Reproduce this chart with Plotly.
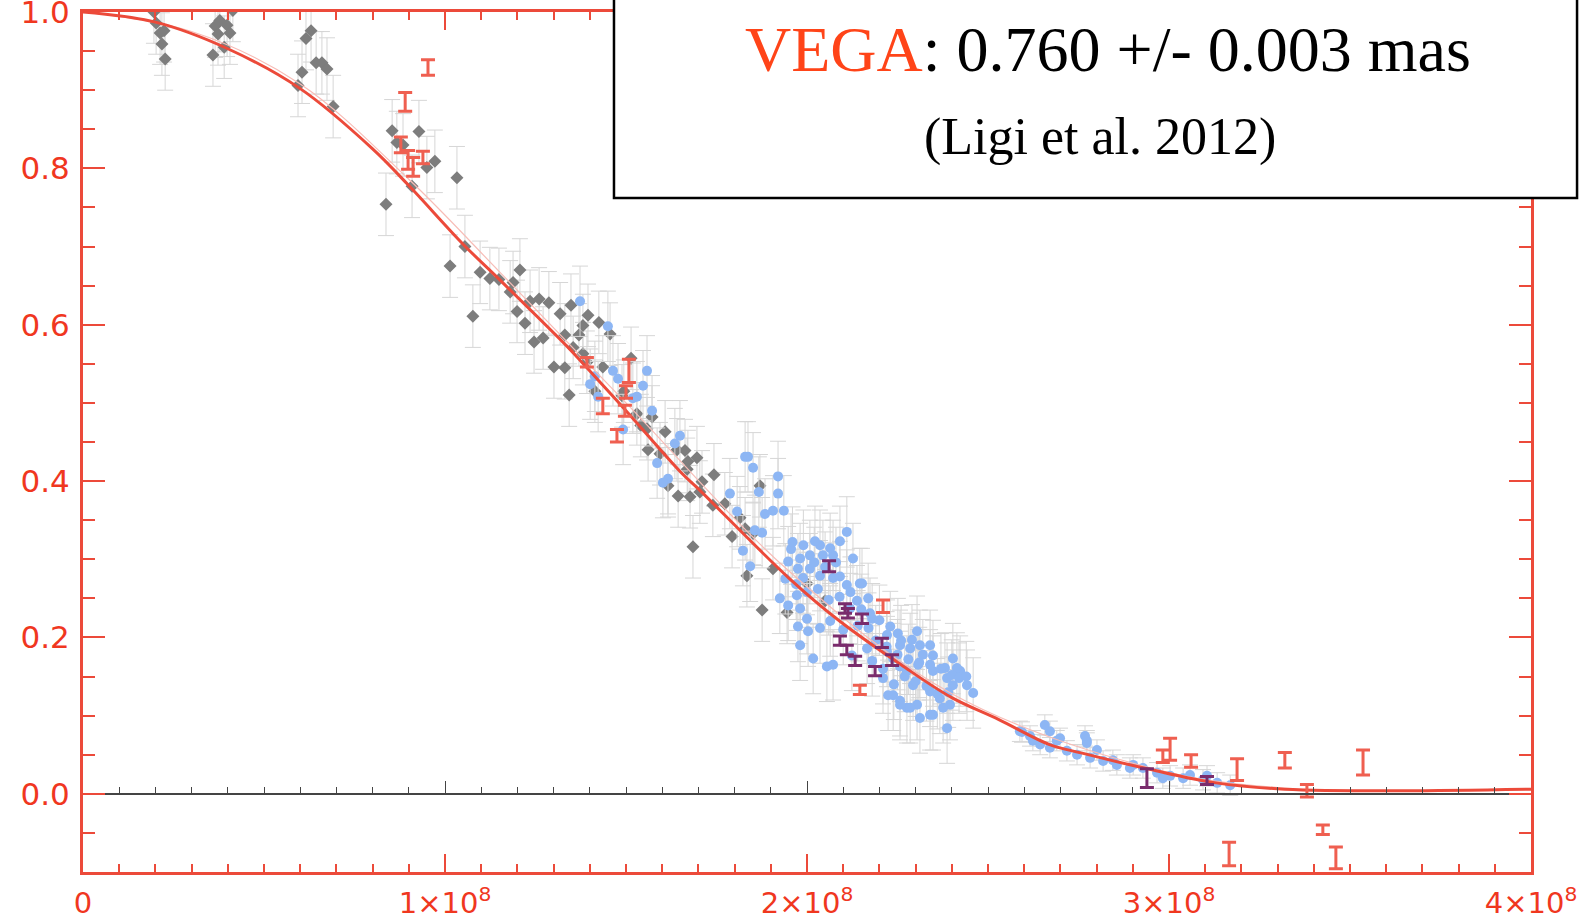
import plotly.graph_objects as go

# ---- data (x in units of 1e8 rad^-1, y = squared visibility) ----
gray_x = [0.196,0.202,0.213,0.224,0.218,0.227,0.359,0.365,0.378,0.398,0.373,0.406,0.414,0.390,
          0.594,0.605,0.616,0.630,0.644,0.660,0.674,0.691,
          0.854,0.928,0.884,0.867,0.972,0.950,1.033,0.837,0.909,1.055,1.014,1.097,1.124,1.149,
          1.207,1.188,1.180,1.199,1.235,1.260,1.287,1.221,1.077,1.246,1.271,1.318,1.348,1.331,
          1.370,1.381,1.395,1.425,1.456,1.354,
          1.301,1.331,1.343,1.381,1.392,1.436,1.514,1.494,1.572,1.608,1.641,1.663,1.671,1.561,
          1.644,1.677,1.616,1.696,
          1.414,1.489,1.530,1.541,1.558,1.594,1.669,1.743,1.710,1.704,1.740,1.773,1.815,1.829,
          1.793,1.870,1.685,1.834,
          1.876,1.945,1.851,1.906,2.000,2.050]
gray_y = [1.000,0.986,0.973,0.976,0.959,0.940,0.945,0.982,0.989,0.983,0.972,0.973,1.002,0.955,
          0.906,0.923,0.966,0.976,0.935,0.935,0.927,0.879,
          0.848,0.847,0.830,0.833,0.809,0.801,0.788,0.754,0.777,0.700,0.675,0.667,0.659,0.658,
          0.670,0.654,0.642,0.617,0.630,0.633,0.628,0.602,0.611,0.578,0.583,0.614,0.625,0.587,
          0.587,0.599,0.612,0.603,0.588,0.571,
          0.546,0.545,0.510,0.563,0.552,0.546,0.557,0.515,0.482,0.463,0.440,0.439,0.425,0.440,
          0.381,0.380,0.394,0.430,
          0.515,0.509,0.486,0.471,0.467,0.435,0.415,0.408,0.399,0.386,0.369,0.371,0.353,0.339,
          0.329,0.394,0.316,0.279,
          0.235,0.232,0.333,0.288,0.269,0.247]
gray_err = 0.04

blue_x = [1.373,1.450,1.464,1.478,1.558,1.547,1.530,1.519,1.572,1.414,1.401,1.423,1.492,1.649,
          1.635,1.586,1.616,1.602,1.829,1.851,1.787,1.867,1.920,1.807,1.884,1.906,1.936,1.856,
          1.876,1.823,1.843,1.956,2.110,2.091,2.036,1.981,2.008,2.127,1.948,2.072,
          1.975,2.044,2.064,1.925,1.948,1.972,1.989,2.008,2.036,2.072,2.091,2.110,2.146,1.981,
          2.000,1.975,2.003,2.036,2.064,2.119,2.138,2.169,2.174,1.981,2.017,2.055,2.072,2.124,
          2.166,2.221,2.251,2.221,2.238,2.257,2.210,2.224,2.257,2.276,2.304,2.312,2.348,2.367,
          2.340,2.293,2.276,2.307,2.348,2.387,2.403,2.442,2.459,2.395,2.387,2.381,2.348,2.312,
          2.285,2.257,2.304,2.340,2.403,2.423,2.022,2.152,2.238,2.376,2.340,2.285,2.257,2.414,
          1.920,1.837,
          1.960,1.990,2.020,2.050,2.080,1.940,1.970,2.000,2.030,2.060,2.090,2.120,2.150,2.180,
          2.140,2.170,2.200,2.230,2.260,2.290,2.320,2.190,2.220,2.250,2.280,2.310,2.340,2.370,
          2.400,2.270,2.300,2.330,2.360,2.390,2.420,2.440,2.180,2.210,2.240,2.100]
blue_y = [0.630,0.598,0.541,0.531,0.541,0.522,0.508,0.506,0.490,0.534,0.524,0.508,0.466,0.458,
          0.448,0.423,0.403,0.398,0.431,0.417,0.384,0.386,0.384,0.361,0.358,0.362,0.362,0.337,
          0.334,0.311,0.291,0.313,0.335,0.323,0.318,0.301,0.305,0.301,0.297,0.305,
          0.288,0.305,0.314,0.250,0.241,0.254,0.276,0.288,0.279,0.276,0.278,0.267,0.269,0.237,
          0.224,0.214,0.208,0.212,0.221,0.237,0.247,0.250,0.231,0.190,0.173,0.163,0.165,0.177,
          0.186,0.203,0.205,0.182,0.173,0.163,0.148,0.126,0.119,0.110,0.114,0.097,0.101,0.122,
          0.131,0.139,0.157,0.165,0.157,0.148,0.139,0.139,0.129,0.114,0.084,0.161,0.177,0.190,
          0.186,0.190,0.208,0.190,0.173,0.157,0.323,0.269,0.126,0.110,0.101,0.110,0.114,0.161,
          0.406,0.431,
          0.322,0.318,0.296,0.290,0.296,0.275,0.268,0.258,0.262,0.248,0.252,0.258,0.236,0.224,
          0.215,0.212,0.222,0.214,0.196,0.197,0.178,0.196,0.188,0.178,0.172,0.168,0.165,0.160,
          0.152,0.150,0.144,0.138,0.128,0.130,0.148,0.150,0.170,0.160,0.140,0.210]
blue_err = 0.045

blue_low_x = [2.588,2.616,2.671,2.699,2.773,2.801,2.718,2.746,2.782,2.818,2.856,2.892,2.928,
              2.967,3.003,3.039,3.058,3.094,3.133,3.169,2.624,2.644,2.671,2.845,2.901,2.983,
              3.105,2.773,2.594,2.657,2.768,2.690]
blue_low_y = [0.080,0.074,0.080,0.071,0.065,0.056,0.055,0.050,0.046,0.042,0.037,0.033,0.033,
              0.027,0.023,0.020,0.024,0.018,0.014,0.011,0.068,0.063,0.059,0.043,0.037,0.020,
              0.023,0.068,0.079,0.088,0.074,0.068]
blue_low_err = 0.013

red_x = [0.953,0.890,0.878,0.898,0.912,0.939,1.392,1.508,1.500,1.436,1.475,1.497,
         2.210,2.146,3.003,2.983,3.061,3.188,3.320,3.381,3.536,3.425,3.166,3.461]
red_y = [0.929,0.885,0.830,0.811,0.802,0.814,0.552,0.541,0.514,0.496,0.458,0.490,
         0.240,0.133,0.057,0.048,0.042,0.031,0.043,0.004,0.040,-0.046,-0.077,-0.082]
red_err = [0.010,0.012,0.010,0.012,0.012,0.008,0.006,0.015,0.008,0.010,0.008,0.007,
           0.008,0.006,0.014,0.008,0.008,0.014,0.010,0.008,0.016,0.006,0.015,0.014]

purple_x = [2.061,2.105,2.113,2.152,2.091,2.110,2.133,2.207,2.235,2.188,2.939,3.105]
purple_y = [0.291,0.237,0.231,0.224,0.196,0.184,0.170,0.193,0.171,0.157,0.020,0.017]
purple_err = [0.007,0.006,0.006,0.006,0.006,0.006,0.006,0.006,0.007,0.006,0.012,0.005]

fit_x = [0.0,0.2,0.4,0.6,0.8,0.9,1.05,1.15,1.34,1.38,1.50,1.65,1.70,1.95,2.09,2.26,2.40,
         2.53,2.67,2.76,2.95,3.13,3.32,3.64,4.0]
fit_y = [1.000,0.987,0.953,0.902,0.825,0.778,0.703,0.658,0.571,0.551,0.490,0.412,0.390,
         0.276,0.221,0.165,0.123,0.095,0.063,0.052,0.031,0.014,0.006,0.004,0.006]
fit2_x = [0.0,0.3,0.6,0.9,1.15,1.5,1.95,2.4,2.95,3.3,4.0]
fit2_y = [1.000,0.975,0.908,0.786,0.668,0.500,0.285,0.128,0.033,0.008,0.006]

x_tickvals = [0, 1, 2, 3, 4]
x_ticktext = ["0", "1×10<sup>8</sup>", "2×10<sup>8</sup>", "3×10<sup>8</sup>", "4×10<sup>8</sup>"]
y_tickvals = [0.0, 0.2, 0.4, 0.6, 0.8, 1.0]
y_ticktext = ["0.0", "0.2", "0.4", "0.6", "0.8", "1.0"]

RED = "#ec4a3a"
LBL = "#f0371f"

fig = go.Figure()

fig.add_trace(go.Scatter(
    x=gray_x, y=gray_y, mode="markers",
    marker=dict(symbol="diamond", size=10, color="#7d7d7d"),
    error_y=dict(type="constant", value=gray_err, color="#d6d6d6", thickness=1, width=8),
    showlegend=False))

fig.add_trace(go.Scatter(
    x=blue_x, y=blue_y, mode="markers",
    marker=dict(symbol="circle", size=10, color="#8db6f4"),
    error_y=dict(type="constant", value=blue_err, color="#d6d6d6", thickness=1, width=8),
    showlegend=False))

fig.add_trace(go.Scatter(
    x=blue_low_x, y=blue_low_y, mode="markers",
    marker=dict(symbol="circle", size=10, color="#8db6f4"),
    error_y=dict(type="constant", value=blue_low_err, color="#d6d6d6", thickness=1, width=8),
    showlegend=False))

fig.add_trace(go.Scatter(
    x=fit2_x, y=fit2_y, mode="lines", line=dict(color="#f7bdb7", width=1.2, shape="spline"),
    showlegend=False))
fig.add_trace(go.Scatter(
    x=fit_x, y=fit_y, mode="lines", line=dict(color=RED, width=3, shape="spline"),
    showlegend=False))

fig.add_trace(go.Scatter(
    x=red_x, y=red_y, mode="markers", marker=dict(size=1, color="#ef5f50", opacity=0),
    error_y=dict(type="data", array=red_err, color="#ef5f50", thickness=3, width=7),
    showlegend=False))
fig.add_trace(go.Scatter(
    x=purple_x, y=purple_y, mode="markers", marker=dict(size=1, color="#7a2c6c", opacity=0),
    error_y=dict(type="data", array=purple_err, color="#7a2c6c", thickness=3, width=7),
    showlegend=False))

# overlay axis at y = 0 (black line with small ticks)
fig.add_trace(go.Scatter(x=[0, 4], y=[0, 0], mode="markers", marker=dict(opacity=0),
                         xaxis="x2", showlegend=False, hoverinfo="skip"))

fig.update_layout(
    width=1595, height=918,
    margin=dict(l=83, r=64, t=12, b=46, autoexpand=False),
    paper_bgcolor="white", plot_bgcolor="white",
    xaxis=dict(range=[0, 4], tickmode="array", tickvals=x_tickvals, ticktext=x_ticktext,
               automargin=False,
               showgrid=False, zeroline=False, showline=True, linecolor=RED, linewidth=3,
               mirror="ticks", ticks="inside", ticklen=18, tickwidth=2, tickcolor=RED,
               minor=dict(tick0=0, dtick=0.1, ticklen=8, tickwidth=2, tickcolor=RED,
                          ticks="inside"),
               tickfont=dict(family="DejaVu Sans", size=29, color=LBL),
               ticklabelstandoff=3, ticklabeloverflow="allow"),
    xaxis2=dict(range=[0, 4], overlaying="x", anchor="free", position=0.1 / 1.1,
                automargin=False,
                showline=True, linecolor="#444444", linewidth=1.5, showgrid=False,
                zeroline=False, ticks="inside", dtick=1, ticklen=12, tickcolor="#444444",
                tickwidth=1, showticklabels=False,
                minor=dict(dtick=0.1, ticklen=6, tickcolor="#444444", ticks="inside")),
    yaxis=dict(range=[-0.1, 1.0], tickmode="array", tickvals=y_tickvals, ticktext=y_ticktext,
               automargin=False,
               showgrid=False, zeroline=False, showline=True, linecolor=RED, linewidth=3,
               mirror="ticks", ticks="inside", ticklen=22, tickwidth=2, tickcolor=RED,
               minor=dict(tick0=0, dtick=0.05, ticklen=12, tickwidth=2, tickcolor=RED,
                          ticks="inside"),
               tickfont=dict(family="DejaVu Sans", size=31, color=LBL),
               ticklabelstandoff=4, ticklabeloverflow="allow"),
)

# label box
fig.add_shape(type="rect", xref="paper", yref="paper", x0=0.3667, x1=1.0318, y0=0.7837,
              y1=1.06, line=dict(color="black", width=2.5), fillcolor="white", layer="above")
fig.add_annotation(xref="paper", yref="paper", x=0.7079, y=0.956, xanchor="center",
                   yanchor="middle", showarrow=False,
                   text='<span style="color:#ff4418">VEGA</span>: 0.760 +/- 0.003 mas',
                   font=dict(family="Liberation Serif", size=64, color="black"))
fig.add_annotation(xref="paper", yref="paper", x=0.7023, y=0.8547, xanchor="center",
                   yanchor="middle", showarrow=False,
                   text="(Ligi et al. 2012)",
                   font=dict(family="Liberation Serif", size=52, color="black"))

fig.write_html("out.html")
